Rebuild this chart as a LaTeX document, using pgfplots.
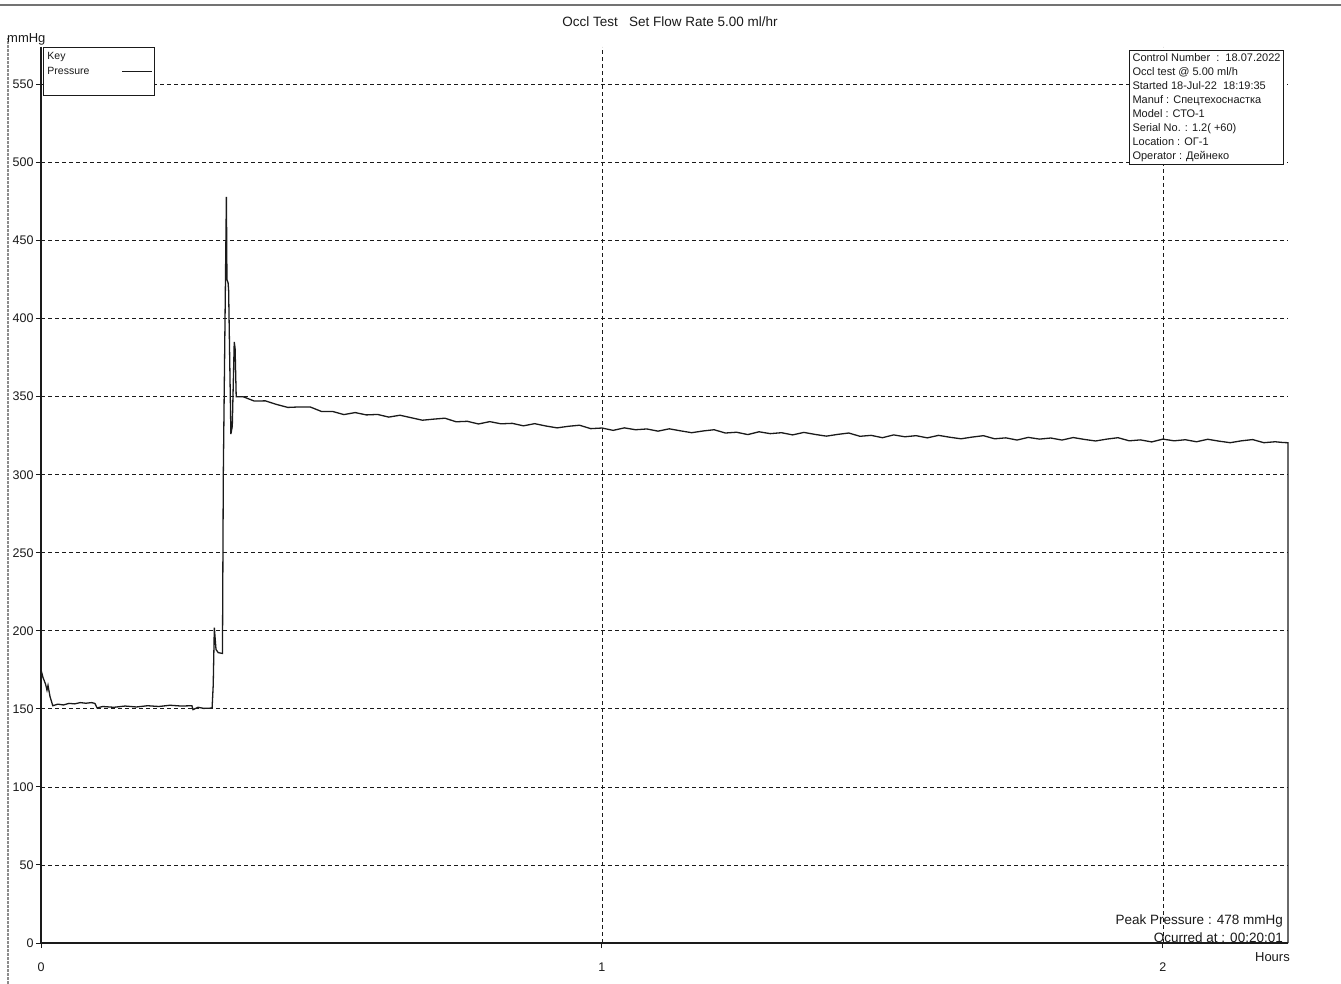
\documentclass[border=0pt]{standalone}
\usepackage{pgfplots}
\pgfplotsset{compat=1.18}
\usepackage{fontspec}
\setmainfont{Liberation Sans}
\definecolor{ink}{HTML}{1A1A1A}
\pgfplotstableread{
h p
0 175
0.0036 170
0.008 166
0.0107 162
0.0125 165
0.016 158
0.021 152
0.03 153
0.04 152.5
0.05 153.5
0.06 153.2
0.07 154
0.08 153.6
0.09 154
0.096 153.5
0.1 150.6
0.11 151.5
0.13 151
0.15 151.8
0.17 151.2
0.19 152
0.21 151.5
0.23 152.3
0.25 151.8
0.269 152
0.271 149.5
0.28 151
0.29 150.3
0.305 150.5
0.307 165
0.309 202
0.312 188
0.316 186
0.3235 185.5
0.325 300
0.3305 478
0.3315 425
0.3335 423
0.3345 418
0.3385 326
0.341 331
0.3445 385
0.346 381
0.348 350
0.36 350.0
0.38 347.2
0.40 347.3
0.42 345.0
0.44 343.1
0.46 343.4
0.48 343.4
0.50 340.5
0.52 340.5
0.54 338.5
0.56 339.8
0.58 338.3
0.60 338.6
0.62 336.9
0.64 338.1
0.66 336.5
0.68 334.9
0.70 335.6
0.72 336.2
0.74 333.9
0.76 334.2
0.78 332.5
0.80 334.0
0.82 332.6
0.84 332.9
0.86 331.3
0.88 332.7
0.90 331.2
0.92 330.0
0.94 331.0
0.96 331.7
0.98 329.5
1.00 329.9
1.02 328.4
1.04 330.0
1.06 328.8
1.08 329.3
1.10 327.9
1.12 329.4
1.14 328.1
1.16 326.9
1.18 328.0
1.20 328.8
1.22 326.7
1.24 327.2
1.26 325.7
1.28 327.5
1.30 326.3
1.32 326.9
1.34 325.5
1.36 327.1
1.38 325.8
1.40 324.7
1.42 325.8
1.44 326.7
1.46 324.6
1.48 325.2
1.50 323.7
1.52 325.5
1.54 324.3
1.56 325.0
1.58 323.6
1.60 325.2
1.62 324.0
1.64 323.0
1.66 324.1
1.68 325.0
1.70 323.0
1.72 323.6
1.74 322.2
1.76 323.9
1.78 322.8
1.80 323.5
1.82 322.2
1.84 323.8
1.86 322.6
1.88 321.6
1.90 322.8
1.92 323.7
1.94 321.7
1.96 322.3
1.98 321.0
2.00 322.8
2.02 321.7
2.04 322.4
2.06 321.1
2.08 322.7
2.10 321.5
2.12 320.5
2.14 321.7
2.16 322.5
2.18 320.5
2.20 321.1
2.215 320.6
2.223 320.5
2.223 0
}\pressure
\begin{document}
\begin{tikzpicture}
\useasboundingbox (0,0) rectangle (1341bp,984bp);
% scan edge artefacts
\draw[black!45, line width=1.2bp, dash pattern=on 3bp off 1bp] (8bp,0) -- (8bp,946bp);
\draw[black!55, line width=1.6bp] (0,979bp) -- (1341bp,979bp);
\begin{axis}[
  at={(41bp,41bp)}, anchor=south west,
  scale only axis, width=1247bp, height=896bp,
  xmin=0, xmax=2.223, ymin=0, ymax=574,
  axis lines*=left,
  axis line style={ink, line width=1.1bp},
  xtick={0,1,2}, ytick={0,50,...,550},
  tick align=outside, major tick length=5bp,
  tick style={ink, line width=1bp},
  grid=major,
  major grid style={ink, line width=0.8bp, dash pattern=on 4bp off 3bp},
  /pgf/number format/assume math mode=true,
  ticklabel style={font=\fontsize{12.5bp}{15bp}\selectfont, text=ink},
  xticklabel style={yshift=-11bp},
  yticklabel style={xshift=1bp},
  legend plot pos=right,
  legend cell align=left,
  legend image code/.code={\draw[#1, line width=1.2bp] (0bp,0bp) -- (30bp,0bp);},
  legend style={at={(axis description cs:0,1)}, anchor=north west, xshift=2bp,
    draw=ink, line width=0.9bp, fill=white, inner xsep=2bp, inner ysep=1.5bp,
    font=\fontsize{10.5bp}{12bp}\selectfont, text=ink, row sep=0bp,
    nodes={inner ysep=0bp, text height=10.5bp, text depth=4.5bp}},
  clip=false,
]
\addlegendimage{empty legend}\addlegendentry{\makebox[72bp][l]{Key}}
\addplot[ink, line width=1.3bp, mark=none] table[x=h, y=p] {\pressure};
\addlegendentry{\makebox[72bp][l]{Pressure}}
\addlegendimage{empty legend}\addlegendentry{\makebox[72bp][l]{\ }}
\node[anchor=north east, draw=ink, line width=0.9bp, fill=white, align=left,
  inner sep=3bp, text=ink, font=\fontsize{11bp}{14bp}\selectfont]
  at ([xshift=-4bp, yshift=-3bp]axis description cs:1,1)
  {Control Number\ \ :\ \ 18.07.2022\\
   Occl test @ 5.00 ml/h\\
   Started 18-Jul-22\ \ 18:19:35\\
   Manuf : Спецтехоснастка\\
   Model : СТО-1\\
   Serial No. : 1.2( +60)\\
   Location : ОГ-1\\
   Operator : Дейнеко};
\node[anchor=east, text=ink, font=\fontsize{13.5bp}{15bp}\selectfont, inner sep=0pt]
  at ([xshift=-5bp, yshift=22bp]axis description cs:1,0) {Peak Pressure : 478 mmHg};
\node[anchor=east, text=ink, font=\fontsize{13.5bp}{15bp}\selectfont, inner sep=0pt]
  at ([xshift=-5bp, yshift=5bp]axis description cs:1,0) {Ocurred at : 00:20:01};
\node[anchor=east, text=ink, font=\fontsize{13bp}{15bp}\selectfont, inner sep=0pt]
  at ([xshift=2bp, yshift=-14bp]axis description cs:1,0) {Hours};
\end{axis}
\node[anchor=west, text=ink, font=\fontsize{13bp}{15bp}\selectfont, inner sep=0pt]
  at (7bp,945bp) {mmHg};
\node[text=ink, font=\fontsize{13.5bp}{15bp}\selectfont, inner sep=0pt]
  at (670bp,962bp) {Occl Test\ \ \ Set Flow Rate 5.00 ml/hr};
\end{tikzpicture}
\end{document}
